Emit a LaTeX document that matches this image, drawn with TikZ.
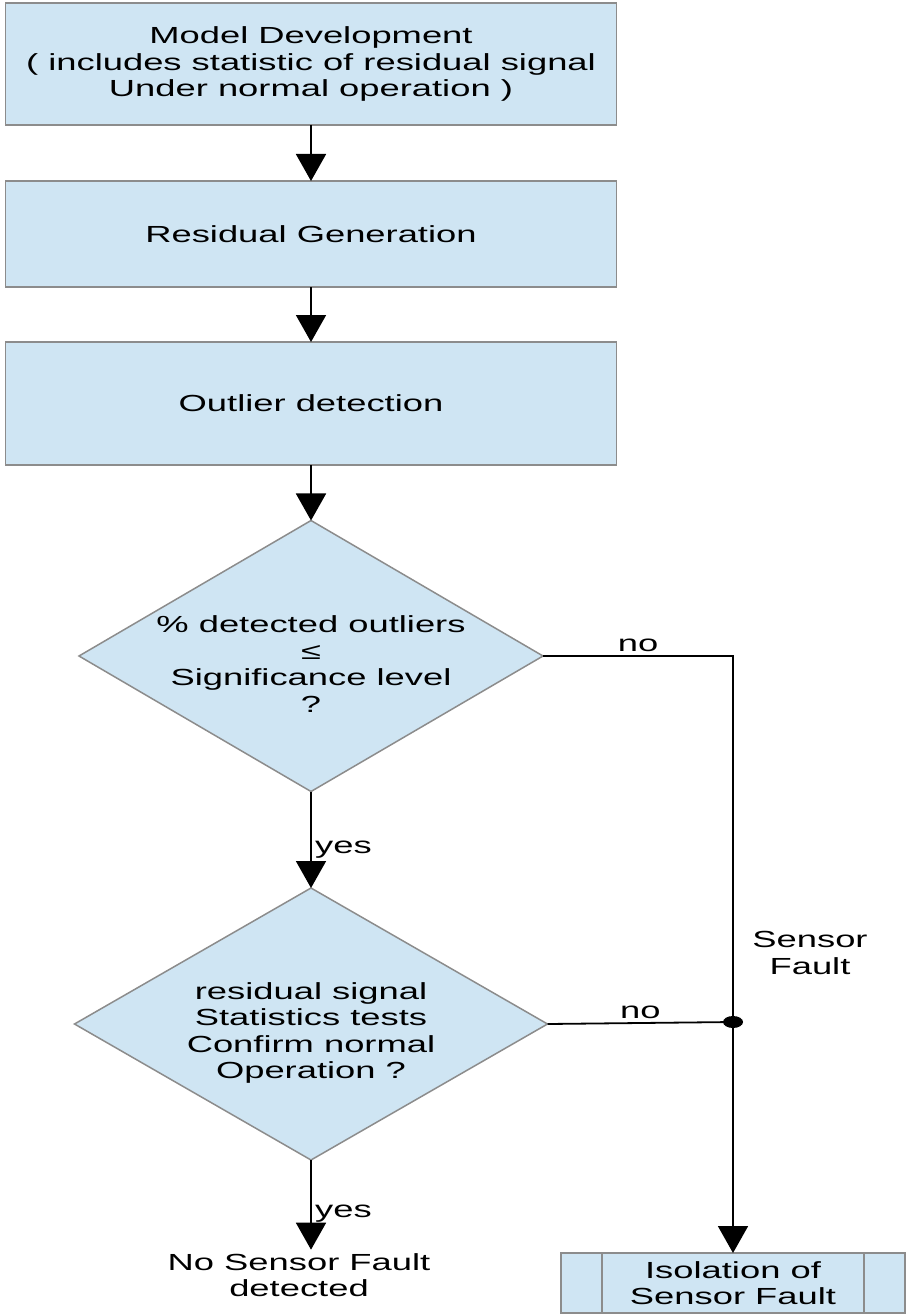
\documentclass[tikz,border=0pt]{standalone}
\usepackage{fontspec}
\setmainfont[FakeStretch=1.56]{Liberation Sans}
\usetikzlibrary{shapes.geometric,arrows.meta}
\definecolor{boxblue}{RGB}{207,229,243}
\definecolor{edgegray}{RGB}{140,140,140}

\begin{document}
\begin{tikzpicture}[x=1pt, y=-1pt,
  font=\fontsize{23.3}{26.5}\selectfont,
  block/.style={draw=edgegray, line width=1.5pt, fill=boxblue, rectangle, align=center, minimum width=611pt, inner sep=0pt, outer sep=0pt},
  decision/.style={draw=edgegray, line width=1.5pt, fill=boxblue, diamond, inner sep=0pt, outer sep=0pt},
  flow/.style={-{Triangle[length=27pt, width=30pt]}, line width=1.8pt},
  conn/.style={line width=1.8pt}]
\useasboundingbox (0,0) rectangle (906,1316);

% boxes
\node[block, minimum height=122pt] (model) at (311,64) {Model Development\\( includes statistic of residual signal\\Under normal operation )};
\node[block, minimum height=106pt] (resid) at (311,234) {Residual Generation};
\node[block, minimum height=123pt] (outlier) at (311,403.5) {Outlier detection};

% decisions
\node[decision, minimum width=464pt, minimum height=271pt] (pct) at (311,656) {};
\node[align=center] (pcttxt) at (311,664) {\% detected outliers\\≤\\Significance level\\?};
\node[decision, minimum width=473pt, minimum height=272pt] (stat) at (311,1024) {};
\node[align=center] (stattxt) at (311,1033) {residual signal\\Statistics tests\\Confirm normal\\Operation ?};

% outcomes
\node[align=center] (nofault) at (299,1275) {No Sensor Fault\\detected};
\node[block, minimum width=344pt, minimum height=60pt] (iso) at (733,1283) {Isolation of\\Sensor Fault};
\draw[edgegray, line width=1.5pt] ([xshift=41pt]iso.north west) -- ([xshift=41pt]iso.south west)
  ([xshift=-41pt]iso.north east) -- ([xshift=-41pt]iso.south east);
\node[align=center] (sflabel) at (810,953) {Sensor\\Fault};
\coordinate (jn) at (733,1022);

% connectors
\draw[flow] (model) -- (resid);
\draw[flow] (resid) -- (outlier);
\draw[flow] (outlier) -- (pct);
\draw[flow] (pct) -- node[right, pos=0.6] (yes1) {yes} (stat);
\draw[flow] (stat) -- node[right, pos=0.6] (yes2) {yes} (stat.south |- nofault.north);
\draw[conn] (pct.east) -- node[above] (no1) {no} (pct.east -| jn) -- (jn);
\draw[conn] (stat.east) -- node[above] (no2) {no} (jn);
\draw[flow] (jn) -- (iso);
\fill (jn) ellipse [x radius=10pt, y radius=6pt];
\end{tikzpicture}
\end{document}
